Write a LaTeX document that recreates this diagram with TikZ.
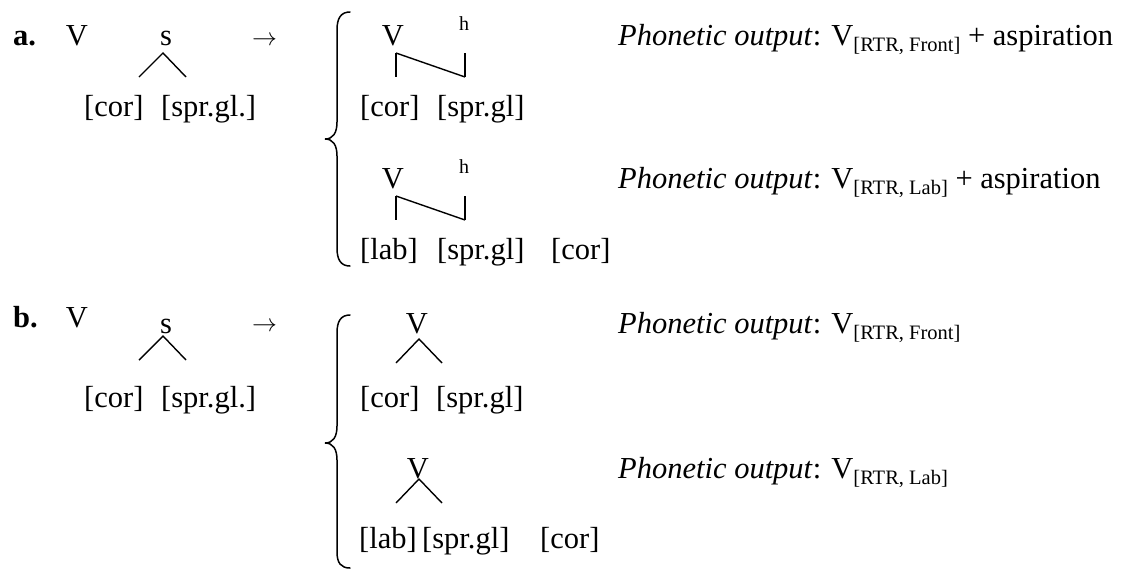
\documentclass[tikz,border=0pt]{standalone}
\usepackage{fontspec}
\setmainfont{Liberation Serif}
\newcommand\subx[1]{\raisebox{-6pt}{\fontsize{20.5}{24}\selectfont #1}}
\newcommand\phon[1]{\textit{Phonetic output}: V\subx{#1}}
\begin{document}
\begin{tikzpicture}[x=1pt,y=-1pt,
  txt/.style={anchor=base west, inner sep=0pt, font=\fontsize{30.5}{36}\selectfont},
  ctr/.style={anchor=base, inner sep=0pt, font=\fontsize{30.5}{36}\selectfont},
  lbl/.style={anchor=base west, inner sep=0pt, font=\fontsize{30.5}{36}\selectfont\bfseries},
  small/.style={anchor=base, inner sep=0pt, font=\fontsize{20}{24}\selectfont},
  ln/.style={line width=1.4pt},
  brace/.style={line width=1.5pt, line cap=round}]
\useasboundingbox (0,0) rectangle (1131,568);
% ---------- row a ----------
\node[lbl] (la) at (13,45) {a.};
\node[ctr] (Va) at (77,45) {V};
\node[ctr] (sa) at (166,45) {s};
\node[txt] (arra) at (252,45) {$\rightarrow$};
\coordinate (sa-apex) at (163,53);
\coordinate (sa-l) at (139,77);
\coordinate (sa-r) at (186,77);
\draw[ln] (sa-l) -- (sa-apex) -- (sa-r);
\node[txt] (cora) at (84,116) {[cor]};
\node[txt] (spra) at (161,116) {[spr.gl.]};
% brace a
\coordinate (bra-t) at (350,12);
\coordinate (bra-m) at (325,139);
\coordinate (bra-b) at (350,266);
\draw[brace] (bra-t) .. controls (341,12) and (337,18) .. (337,30) -- (337,122)
  .. controls (337,133) and (333,139) .. (bra-m)
  .. controls (333,139) and (337,145) .. (337,156) -- (337,248)
  .. controls (337,260) and (341,266) .. (bra-b);
% a1
\node[ctr] (Va1) at (393,45) {V};
\node[small] (ha1) at (464,30) {h};
\coordinate (Va1-d) at (396,53);
\coordinate (ha1-d) at (465,53);
\coordinate (cora1-u) at (396,77);
\coordinate (spra1-u) at (465,77);
\draw[ln] (Va1-d) -- (cora1-u);
\draw[ln] (Va1-d) -- (spra1-u);
\draw[ln] (ha1-d) -- (spra1-u);
\node[txt] (cora1) at (360,116) {[cor]};
\node[txt] (spra1) at (437,116) {[spr.gl]};
\node[txt] (pa1) at (618,45) {\phon{[RTR, Front]} + aspiration};
% a2
\node[ctr] (Va2) at (393,188) {V};
\node[small] (ha2) at (464,173) {h};
\coordinate (Va2-d) at (396,196);
\coordinate (ha2-d) at (465,196);
\coordinate (laba2-u) at (396,220);
\coordinate (spra2-u) at (465,220);
\draw[ln] (Va2-d) -- (laba2-u);
\draw[ln] (Va2-d) -- (spra2-u);
\draw[ln] (ha2-d) -- (spra2-u);
\node[txt] (laba2) at (360,259) {[lab]};
\node[txt] (spra2) at (437,259) {[spr.gl]};
\node[txt] (cora2) at (551,259) {[cor]};
\node[txt] (pa2) at (618,188) {\phon{[RTR, Lab]} + aspiration};
% ---------- row b ----------
\node[lbl] (lb) at (13,327) {b.};
\node[ctr] (Vb) at (77,327) {V};
\node[ctr] (sb) at (166,333) {s};
\node[txt] (arrb) at (252,331) {$\rightarrow$};
\coordinate (sb-apex) at (163,336);
\coordinate (sb-l) at (139,360);
\coordinate (sb-r) at (186,360);
\draw[ln] (sb-l) -- (sb-apex) -- (sb-r);
\node[txt] (corb) at (84,407) {[cor]};
\node[txt] (sprb) at (161,407) {[spr.gl.]};
% brace b
\coordinate (brb-t) at (350,315);
\coordinate (brb-m) at (325,443);
\coordinate (brb-b) at (350,568);
\draw[brace] (brb-t) .. controls (341,315) and (337,321) .. (337,333) -- (337,426)
  .. controls (337,437) and (333,443) .. (brb-m)
  .. controls (333,443) and (337,449) .. (337,460) -- (337,552)
  .. controls (337,563) and (341,568) .. (brb-b);
% b1
\node[ctr] (Vb1) at (417,333) {V};
\coordinate (Vb1-apex) at (419,339);
\coordinate (corb1-u) at (396,363);
\coordinate (sprb1-u) at (442,363);
\draw[ln] (corb1-u) -- (Vb1-apex) -- (sprb1-u);
\node[txt] (corb1) at (360,407) {[cor]};
\node[txt] (sprb1) at (436,407) {[spr.gl]};
\node[txt] (pb1) at (618,333) {\phon{[RTR, Front]}};
% b2
\node[ctr] (Vb2) at (418,478) {V};
\coordinate (Vb2-apex) at (419,479);
\coordinate (labb2-u) at (396,503);
\coordinate (sprb2-u) at (442,503);
\draw[ln] (labb2-u) -- (Vb2-apex) -- (sprb2-u);
\node[txt] (labb2) at (359,548) {[lab]};
\node[txt] (sprb2) at (422,548) {[spr.gl]};
\node[txt] (corb2) at (540,548) {[cor]};
\node[txt] (pb2) at (618,478) {\phon{[RTR, Lab]}};
\end{tikzpicture}
\end{document}
